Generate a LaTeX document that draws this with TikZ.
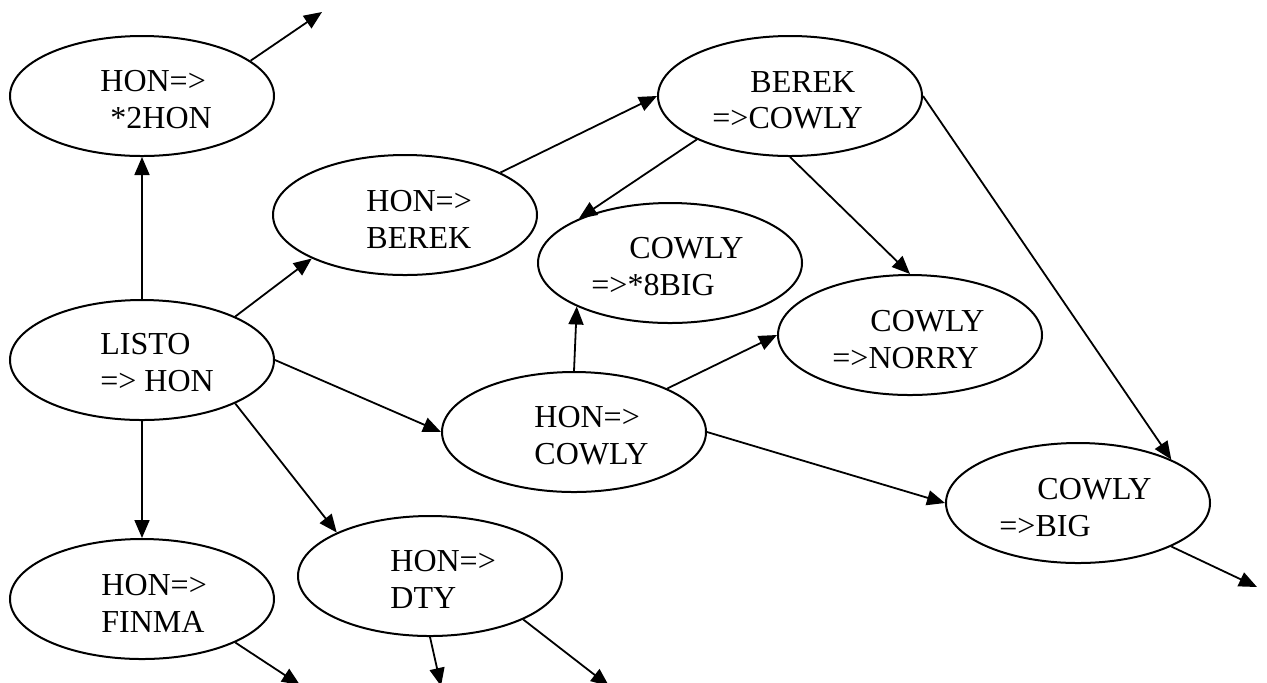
\documentclass[tikz,border=0pt]{standalone}
\usepackage{fontspec}
\setmainfont{Liberation Serif}
\usetikzlibrary{shapes.geometric,arrows.meta}

\begin{document}
\begin{tikzpicture}[x=0.5pt,y=-0.5pt,
  rule/.style={draw,ellipse,line width=1pt,minimum width=132pt,minimum height=60pt,inner sep=0pt},
  ruletext/.style={anchor=north west,inner sep=0pt,align=left,font=\fontsize{16}{18.25}\selectfont},
  arr/.style={-{Triangle[length=9pt,width=7.5pt]},line width=0.9pt}]
\useasboundingbox (0,0) rectangle (1267,682);
% the rules
\node[rule] (hon2) at (142,96) {};
\node[rule] (honberek) at (405,215) {};
\node[rule] (berekcowly) at (790,96) {};
\node[rule] (cowly8big) at (670,263) {};
\node[rule] (cowlynorry) at (910,335) {};
\node[rule] (listo) at (142,360) {};
\node[rule] (honcowly) at (574,432) {};
\node[rule] (cowlybig) at (1078,503) {};
\node[rule] (honfinma) at (142,599) {};
\node[rule] (hondty) at (430,576) {};
% their texts
\node[ruletext] (hon2-t) at (100,70) {HON=>\\\hspace*{5pt}*2HON};
\node[ruletext] (honberek-t) at (366,190) {HON=>\\BEREK};
\node[ruletext] (berekcowly-t) at (712,71) {\hspace*{19pt}BEREK\\=>COWLY};
\node[ruletext] (cowly8big-t) at (591,237) {\hspace*{19pt}COWLY\\=>*8BIG};
\node[ruletext] (cowlynorry-t) at (832,310) {\hspace*{19pt}COWLY\\=>NORRY};
\node[ruletext] (listo-t) at (100,333) {LISTO\\=> HON};
\node[ruletext] (honcowly-t) at (534,406) {HON=>\\COWLY};
\node[ruletext] (cowlybig-t) at (999,478) {\hspace*{19pt}COWLY\\=>BIG};
\node[ruletext] (honfinma-t) at (101,574) {HON=>\\FINMA};
\node[ruletext] (hondty-t) at (390,550) {HON=>\\DTY};
% loose ends
\coordinate (hon2out) at (322,12);
\coordinate (cowlybigout) at (1257,587);
\coordinate (honfinmaout) at (300,685);
\coordinate (hondtyout1) at (441,686);
\coordinate (hondtyout2) at (609,686);
% arrows
\draw[arr] (listo.north) -- (hon2.south);
\draw[arr] (listo.25) -- (honberek.205);
\draw[arr] (listo.east) -- (honcowly.west);
\draw[arr] (listo.south) -- (honfinma.north);
\draw[arr] (listo.335) -- (hondty.155);
\draw[arr] (hon2.18) -- (hon2out);
\draw[arr] (honberek.24) -- (berekcowly.west);
\draw[arr] (berekcowly.205) -- (cowly8big.154);
\draw[arr] (berekcowly.south) -- (cowlynorry.north);
\draw[arr] (berekcowly.east) -- (cowlybig.25);
\draw[arr] (honcowly.north) -- (cowly8big.205);
\draw[arr] (honcowly.25) -- (cowlynorry.west);
\draw[arr] (honcowly.east) -- (cowlybig.west);
\draw[arr] (cowlybig.335) -- (cowlybigout);
\draw[arr] (honfinma.335) -- (honfinmaout);
\draw[arr] (hondty.south) -- (hondtyout1);
\draw[arr] (hondty.335) -- (hondtyout2);
\end{tikzpicture}
\end{document}
